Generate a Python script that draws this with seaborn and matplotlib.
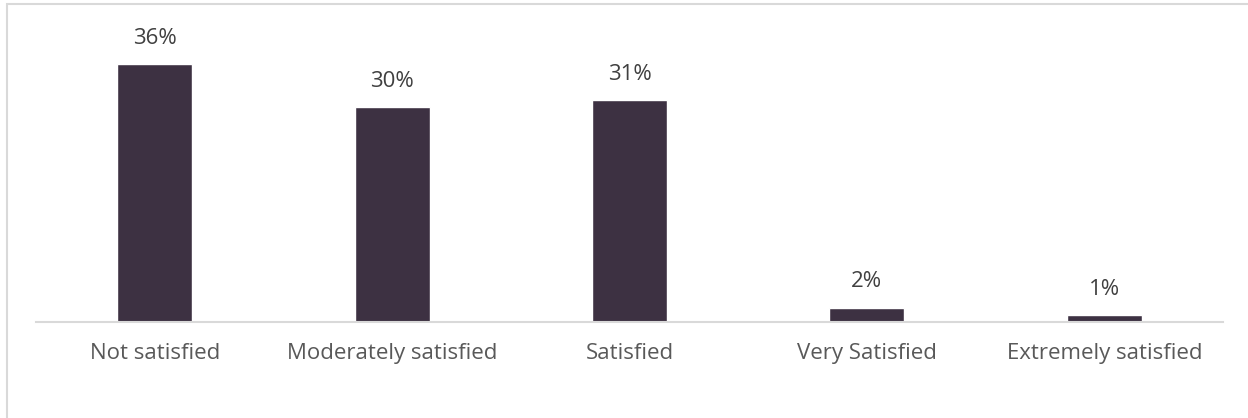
import matplotlib
matplotlib.use("Agg")
import matplotlib.pyplot as plt
from matplotlib.patches import Rectangle
import seaborn as sns
import pandas as pd

categories = ["Not satisfied", "Moderately satisfied", "Satisfied",
              "Very Satisfied", "Extremely satisfied"]
shares = [36, 30, 31, 2, 1]

sns.set_theme(style="white")
plt.rcParams["font.family"] = ["Open Sans", "DejaVu Sans"]

W, H = 1248, 418
fig = plt.figure(figsize=(W / 100, H / 100), dpi=100)

# plot area: baseline at y=322 px, spans x=36..1223 px
top_px, base_px, left_px, right_px = 20, 322, 36, 1223
ax = fig.add_axes([left_px / W, (H - base_px) / H,
                   (right_px - left_px) / W, (base_px - top_px) / H])

df = pd.DataFrame({"category": categories, "share": shares})
sns.barplot(data=df, x="category", y="share", color="#3d3142",
            width=0.316, saturation=1, ax=ax)

ax.set_xlim(-0.5, len(categories) - 0.5)
ax.set_ylim(0, (base_px - top_px) / 7.17)

for i, v in enumerate(shares):
    ax.annotate(f"{v}%", (i, v), xytext=(0, 18.5), textcoords="offset points",
                ha="center", va="center", fontsize=16, color="#404040")

ax.set_xlabel("")
ax.set_ylabel("")
ax.set_yticks([])
ax.tick_params(axis="x", length=0, pad=15, labelsize=16, labelcolor="#595959")
for s in ["top", "left", "right"]:
    ax.spines[s].set_visible(False)
ax.spines["bottom"].set_color("#d9d9d9")
ax.spines["bottom"].set_linewidth(1.5)

# outer frame around the chart
fig.patches.append(Rectangle((6.5 / W, -0.1), 1.2, (H - 3.5) / H + 0.1,
                             transform=fig.transFigure, fill=False,
                             edgecolor="#d9d9d9", linewidth=1.5))

fig.savefig("out.png", dpi=100)
